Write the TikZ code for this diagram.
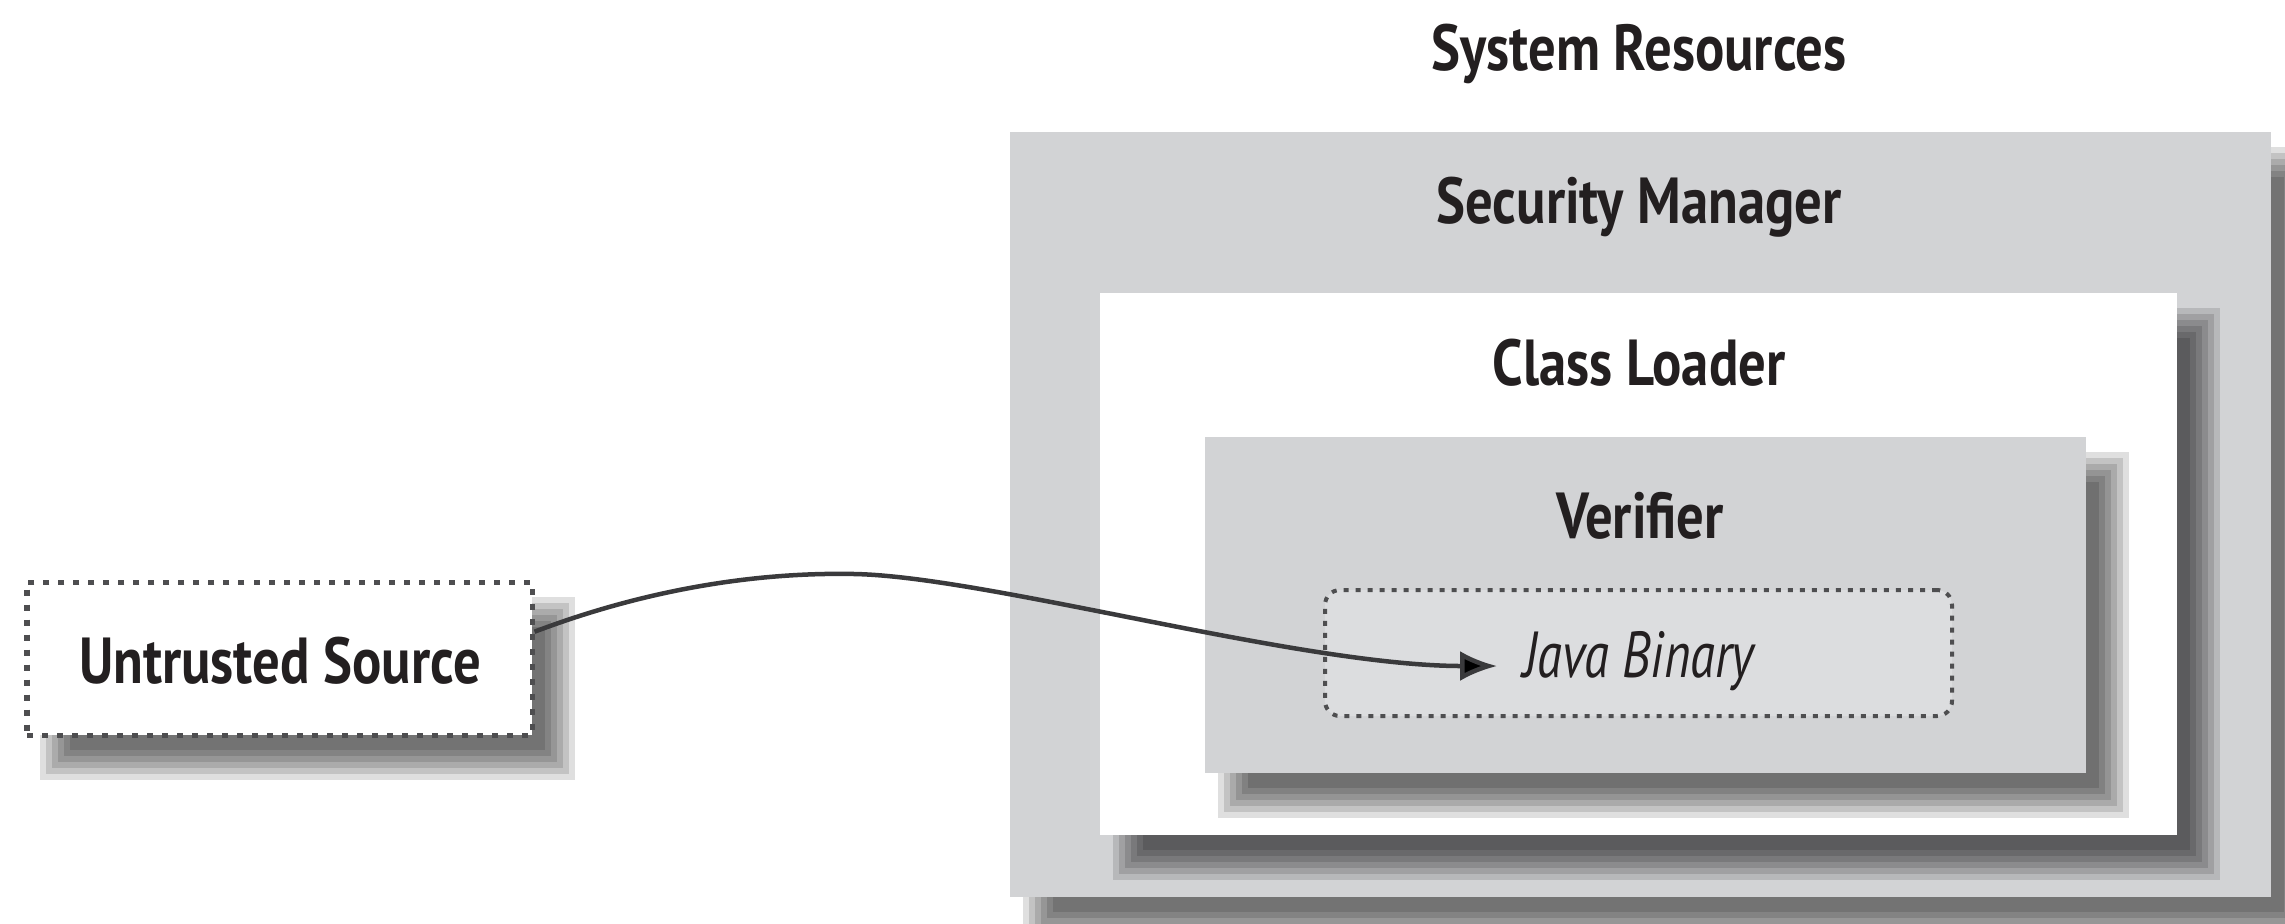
\documentclass[tikz,border=0pt]{standalone}
\usepackage{fontspec}
\usetikzlibrary{arrows.meta,fit}
\newfontfamily\lblfont{PT Sans}[FakeStretch=0.84]
\newfontfamily\itlfont{PT Sans}[FakeStretch=0.78]
\definecolor{boxgray}{HTML}{D2D3D5}
\definecolor{bingray}{HTML}{DCDDDF}
\definecolor{dashgray}{HTML}{4E4E50}
\definecolor{txt}{HTML}{231F20}
\definecolor{linegray}{HTML}{3A3A3C}
\newcommand\castshadow[2]{%
  \foreach \p/\q/\r/\s in {43/45/13/15, 37/39/19/21, 31/33/25/27, 25/27/31/33, 19/21/37/39, 13/15/43/45}{%
    \fill[black,opacity=0.125] ([shift={(\p,\q)}]#1) rectangle ([shift={(\r,\s)}]#2);
  }}
\tikzset{
  graybox/.style={fill=boxgray, draw=none, inner sep=0pt},
  whitebox/.style={fill=white, draw=none, inner sep=0pt},
  binbox/.style={fill=bingray, draw=dashgray, line width=0.04cm, dash pattern=on 0.05cm off 0.07cm, rounded corners=0.15cm, inner sep=0pt},
  srcbox/.style={fill=white, draw=dashgray, line width=0.05cm, dash pattern=on 0.06cm off 0.09cm, inner sep=0pt},
  title/.style={anchor=base, inner sep=0pt, text=txt, font={\lblfont\bfseries\fontsize{18.5}{20}\selectfont}},
  ititle/.style={anchor=base, inner sep=0pt, text=txt, font={\itlfont\itshape\fontsize{18.5}{20}\selectfont}},
  conn/.style={draw=linegray, line width=0.045cm, -{Latex[length=0.37cm,width=0.3cm,fill=black]}}
}
\begin{document}
\begin{tikzpicture}[x=0.01cm,y=-0.01cm]
\useasboundingbox (0,0) rectangle (2285,923);
\clip (0,0) rectangle (2285,923);
% corner coordinates
\coordinate (smA) at (1010,132); \coordinate (smB) at (2271,897);
\coordinate (clA) at (1100,293); \coordinate (clB) at (2177,835);
\coordinate (vfA) at (1205,437); \coordinate (vfB) at (2086,773);
\coordinate (jbA) at (1325,590); \coordinate (jbB) at (1952,716);
\coordinate (usA) at (27,582);   \coordinate (usB) at (532,735);
% title above
\node[title] (sysres) at (1639,70) {System Resources};
% security manager
\castshadow{smA}{smB}
\node[graybox, fit=(smA)(smB)] (sm) {};
\node[title] (smt) at (1639,223) {Security Manager};
% class loader
\castshadow{clA}{clB}
\node[whitebox, fit=(clA)(clB)] (cl) {};
\node[title] (clt) at (1639,385) {Class Loader};
% verifier
\castshadow{vfA}{vfB}
\node[graybox, fit=(vfA)(vfB)] (vf) {};
\node[title] (vft) at (1640,538) {Verifier};
% java binary
\node[binbox, fit=(jbA)(jbB)] (jb) {};
\node[ititle] (jbt) at (1639,677) {Java Binary};
% untrusted source
\castshadow{usA}{usB}
\node[srcbox, fit=(usA)(usB)] (us) {};
\node[title] (ust) at (280,683) {Untrusted Source};
% connector
\coordinate (tip) at (1497,666);
\draw[conn] (us.6) .. controls (650,588) and (760,572) .. (855,574)
  .. controls (990,577) and (1300,666) .. (tip);
\end{tikzpicture}
\end{document}
